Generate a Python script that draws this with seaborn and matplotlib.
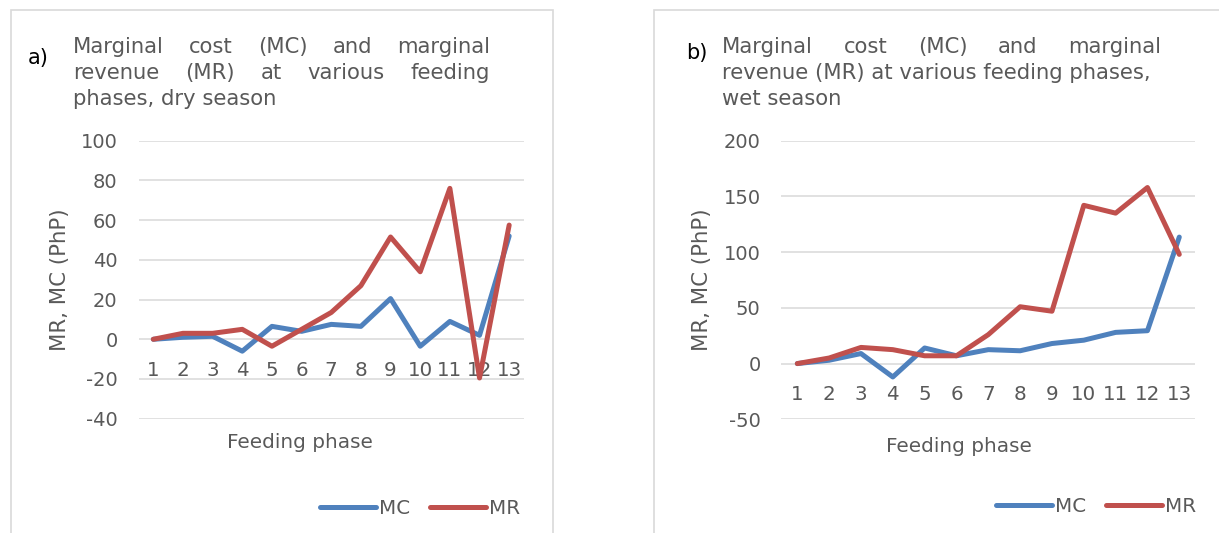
import pandas as pd
import matplotlib
matplotlib.use('Agg')
import matplotlib.pyplot as plt
from matplotlib.patches import Rectangle
import seaborn as sns

# data
phase = list(range(1, 14))
mc_dry = [0, 1, 1.5, -6, 6.5, 4, 7.5, 6.5, 20.5, -3.5, 9, 2, 52]
mr_dry = [0, 3, 3, 5, -3.5, 5, 13.5, 27, 51.5, 34, 76, -19.5, 57.5]
mc_wet = [0, 3, 9, -12, 14, 7, 12.5, 11.5, 18, 21, 28, 29.5, 113.5]
mr_wet = [0, 5, 14.5, 12.5, 7, 7, 26, 51, 47, 142, 135, 158, 98]

series_names = ["MC", "MR"]
palette = {"MC": "#4F81BD", "MR": "#C0504D"}
ticks_dry = [-40, -20, 0, 20, 40, 60, 80, 100]
ticks_wet = [-50, 0, 50, 100, 150, 200]

title_dry = ["Marginal cost (MC) and marginal",
             "revenue (MR) at various feeding",
             "phases, dry season"]
title_wet = ["Marginal cost (MC) and marginal",
             "revenue (MR) at various feeding phases,",
             "wet season"]

W, H = 1219, 533
GREY = "#595959"

sns.set_style("white")
plt.rcParams['font.family'] = ['DejaVu Sans']
plt.rcParams['axes.unicode_minus'] = False

fig = plt.figure(figsize=(W / 100, H / 100), dpi=100)
renderer = fig.canvas.get_renderer()


def fx(px):
    return px / W


def fy(py):
    return 1 - py / H


def title_line(text, x0, x1, y, justify):
    words = text.split()
    if not justify:
        fig.text(fx(x0), fy(y), text, fontsize=15.2, color=GREY, va='baseline')
        return
    objs = [fig.text(0, 0, w, fontsize=15.2, color=GREY, va='baseline') for w in words]
    widths = [o.get_window_extent(renderer).width for o in objs]
    gap = (x1 - x0 - sum(widths)) / (len(words) - 1)
    x = x0
    for o, w in zip(objs, widths):
        o.set_position((fx(x), fy(y)))
        x += w + gap


def panel(rect, mc, mr, yticks, tag, tag_xy, title, title_x, justify, ylab_x, xlab_xy, leg_xy):
    df = pd.DataFrame({
        "phase": phase * 2,
        "value": mc + mr,
        "series": [series_names[0]] * len(mc) + [series_names[1]] * len(mr),
    })
    ax = fig.add_axes(rect)
    sns.lineplot(data=df, x="phase", y="value", hue="series", palette=palette,
                 estimator=None, linewidth=3.6, legend=False, ax=ax, zorder=3,
                 solid_capstyle='round', solid_joinstyle='round')
    ax.set_xlim(0.5, 13.5)
    ax.set_ylim(yticks[0], yticks[-1])
    ax.set_yticks(yticks)
    ax.set_xticks(phase)
    ax.set_xticklabels([str(p) for p in phase])
    ax.yaxis.grid(True, color="#d9d9d9", linewidth=1.1)
    ax.xaxis.grid(False)
    ax.set_axisbelow(True)
    for s in ax.spines.values():
        s.set_color('none')
    ax.spines['bottom'].set_position(('data', 0))
    ax.tick_params(axis='x', length=0, pad=15.5, labelsize=14.3, labelcolor=GREY)
    ax.tick_params(axis='y', length=0, pad=15, labelsize=14, labelcolor=GREY)
    ax.set_xlabel("")
    ax.set_ylabel("")

    fig.text(fx(ylab_x), fy(280), "MR, MC (PhP)", rotation=90, ha='center', va='center',
             fontsize=15.3, color=GREY)
    fig.text(fx(xlab_xy[0]), fy(xlab_xy[1]), "Feeding phase", ha='center', va='center',
             fontsize=14.4, color=GREY)
    fig.text(fx(tag_xy[0]), fy(tag_xy[1]), tag, fontsize=15, color="black", va='baseline')
    for i, (line, yy) in enumerate(zip(title, [53, 79, 105])):
        title_line(line, title_x[0], title_x[1], yy, justify[i])

    handles = ax.get_lines()[:2]
    ax.legend(handles, series_names, loc='center', ncol=2, frameon=False,
              bbox_to_anchor=(fx(leg_xy[0]), fy(leg_xy[1])), bbox_transform=fig.transFigure,
              handlelength=2.8, handletextpad=0.15, columnspacing=1.0, borderpad=0,
              fontsize=14.3, labelcolor=GREY)
    return ax


panel([138.5 / W, 1 - 418.7 / H, 385.5 / W, 278 / H], mc_dry, mr_dry, ticks_dry,
      "a)", (28, 64), title_dry, (73, 490), [True, True, False], 60, (300, 443), (420, 508))
panel([781.4 / W, 1 - 419.3 / H, 413.8 / W, 278.6 / H], mc_wet, mr_wet, ticks_wet,
      "b)", (686, 59), title_wet, (722, 1161), [True, False, False], 702, (959, 446), (1096, 506))

# chart area borders
fig.patches.append(Rectangle((fx(10.5), fy(560)), fx(553 - 10.5), (560 - 10) / H,
                             transform=fig.transFigure, fill=False, edgecolor="#d9d9d9",
                             linewidth=1.2, figure=fig))
fig.patches.append(Rectangle((fx(654), fy(560)), fx(600), (560 - 10) / H,
                             transform=fig.transFigure, fill=False, edgecolor="#d9d9d9",
                             linewidth=1.2, figure=fig))

fig.savefig('out.png', dpi=100)
plt.close(fig)
